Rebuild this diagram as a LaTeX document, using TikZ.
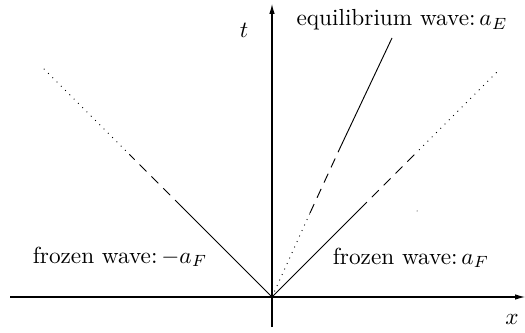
\documentclass[tikz,border=0pt]{standalone}
\usetikzlibrary{arrows.meta}
\begin{document}
\begin{tikzpicture}[x=0.43pt,y=-0.43pt,
  axis/.style={line width=0.45pt,-{Latex[length=4.3pt,width=2.4pt]}},
  wave/.style={line width=0.4pt},
  wdash/.style={line width=0.4pt,dash pattern=on 4.2pt off 3pt},
  wdot/.style={line width=0.4pt,dash pattern=on 0.4pt off 2.2pt},
  lab/.style={inner sep=0pt}]
\useasboundingbox (0,0) rectangle (525,333);
\coordinate (O) at (272,297);
\coordinate (XA) at (10,297);
\coordinate (XB) at (525,297);
\coordinate (TA) at (272,327);
\coordinate (TB) at (272,4);
% right frozen
\coordinate (R1) at (360,209);
\coordinate (R2) at (419,150);
\coordinate (R3) at (500,69);
% left frozen
\coordinate (L1) at (182,207);
\coordinate (L2) at (130,155);
\coordinate (L3) at (43,68);
% equilibrium
\coordinate (E1) at (310,213);
\coordinate (E2) at (340,148);
\coordinate (E3) at (392,38);

\draw[axis] (XA) -- (XB);
\draw[axis] (TA) -- (TB);

\draw[wave] (O) -- (R1);
\draw[wdash] (R1) -- (R2);
\draw[wdot] (R2) -- (R3);

\draw[wave] (O) -- (L1);
\draw[wdash] (L1) -- (L2);
\draw[wdot] (L2) -- (L3);

\draw[wdot] (O) -- (E1);
\draw[wdash] (E1) -- (E2);
\draw[wave] (E2) -- (E3);

\fill (417,211) circle (0.5);

\node[lab] (t) at (244,30) {$t$};
\node[lab] (x) at (512,319) {$x$};
\node[lab] (eq) at (402,20) {equilibrium wave:\,$a_E$};
\node[lab] (fr) at (411,258) {frozen wave:\,$a_F$};
\node[lab] (fl) at (120,257) {frozen wave:\,$-a_F$};
\end{tikzpicture}
\end{document}
